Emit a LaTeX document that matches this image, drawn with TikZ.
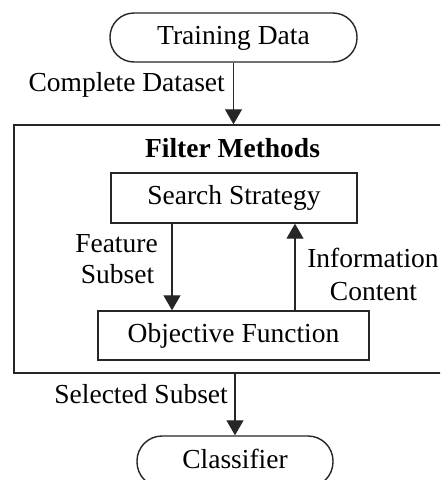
\documentclass[tikz,border=0pt]{standalone}
\usepackage{fontspec}
\setmainfont{Liberation Serif}
\usetikzlibrary{arrows.meta}
\begin{document}
\begin{tikzpicture}[x=1pt,y=-1pt,
  txt/.style={font=\fontsize{27.5pt}{32pt}\selectfont, inner sep=0pt},
  boxnode/.style={txt, draw=black!85, line width=1.4pt, text height=19pt, text depth=6pt},
  stadium/.style={boxnode, rounded corners=24pt},
  conn/.style={draw=black!85, line width=1.2pt, -{Triangle[width=17pt,length=15pt]}}
]
\clip (0,0) rectangle (440,480);
\fill[white] (0,0) rectangle (440,480);

\node[stadium, minimum width=247pt, minimum height=49pt] (train) at (233.5,37.5) {Training Data};
\node[draw=black!85, line width=1.4pt, minimum width=438pt, minimum height=248pt, inner sep=0pt] (filter) at (233,249) {};
\node[txt, anchor=base] (ftitle) at (232.5,157) {\bfseries Filter Methods};
\node[boxnode, minimum width=246pt, minimum height=50pt] (search) at (234,198) {Search Strategy};
\node[boxnode, minimum width=271pt, minimum height=49pt] (objective) at (233.5,335.5) {Objective Function};
\node[stadium, rounded corners=25pt, minimum width=196pt, minimum height=51pt] (classifier) at (235,461.5) {Classifier};

\coordinate (fx) at (172,0);
\coordinate (ix) at (295,0);

\draw[conn] (train.south) -- (train.south |- filter.north);
\draw[conn] (search.south -| fx) -- (objective.north -| fx);
\draw[conn] (objective.north -| ix) -- (search.south -| ix);
\draw[conn] (filter.south -| classifier.north) -- (classifier.north);

\node[txt, anchor=base east] (lcomplete) at (225,91) {Complete Dataset};
\node[txt, anchor=base] (lfeature) at (116.5,252) {Feature};
\node[txt, anchor=base] (lsubset) at (117.5,283) {Subset};
\node[txt, anchor=base] (linfo) at (373,267) {Information};
\node[txt, anchor=base] (lcontent) at (373.5,300) {Content};
\node[txt, anchor=base east] (lselected) at (228,403) {Selected Subset};
\end{tikzpicture}
\end{document}
